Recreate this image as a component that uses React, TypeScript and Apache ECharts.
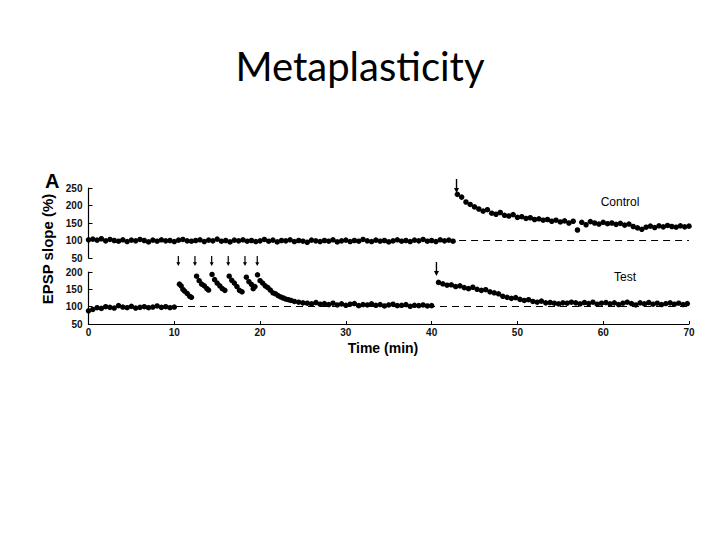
import React, { useEffect, useRef } from "react";
import * as echarts from "echarts";

// ---- data (minutes, EPSP slope %) ----
const xTicks = [0, 10, 20, 30, 40, 50, 60, 70];
const topTicks = [50, 100, 150, 200, 250];
const bottomTicks = [50, 100, 150, 200];

const STEP = 0.5;
// Control pathway, baseline (starts at 0 min, every 0.5 min)
const controlBaseStart = 0;
const controlBase = [
  102, 104, 101, 105, 99, 103, 100, 98, 102, 97, 101, 99, 103, 100, 96, 101, 98, 102, 99, 100,
  97, 101, 103, 99, 98, 100, 102, 97, 101, 99, 104, 98, 100, 96, 101, 99, 102, 98, 100, 97,
  99, 103, 98, 101, 96, 100, 99, 102, 97, 100, 98, 95, 101, 99, 97, 100, 98, 102, 96, 99,
  101, 97, 100, 98, 103, 99, 97, 101, 98, 100, 96, 99, 102, 98, 100, 97, 101, 99, 103, 98,
  100, 97, 102, 99, 101, 98,
];
// Control pathway after LTP induction (starts at 43 min)
const controlPostStart = 43;
const controlPost = [
  232, 224, 210, 203, 196, 190, 184, 188, 178, 175, 180, 172, 170, 174, 166, 168, 163, 165, 160, 162,
  158, 160, 155, 158, 153, 156, 150, 155, 130, 152, 145, 154, 150, 147, 152, 148, 150, 146, 149, 144,
  147, 140, 136, 132, 138, 141, 137, 142, 139, 143, 140, 138, 142, 139, 141,
];
// Test pathway baseline (0–10 min)
const testBaseStart = 0;
const testBase = [88, 92, 97, 95, 100, 98, 96, 103, 99, 97, 101, 96, 98, 100, 97, 99, 102, 98, 100, 97, 99];
// Test pathway during the priming trains (time, value)
const testTrains: [number, number][] = [
  [10.6, 165], [10.8, 160], [11.0, 150], [11.2, 145], [11.5, 138], [11.8, 130], [12.0, 127],
  [12.6, 188], [12.9, 175], [13.2, 165], [13.5, 160], [13.8, 152], [14.0, 148],
  [14.4, 193], [14.7, 178], [15.0, 168], [15.3, 160], [15.6, 152], [15.9, 147],
  [16.4, 188], [16.7, 176], [17.0, 168], [17.3, 158], [17.6, 147], [17.9, 143],
  [18.4, 185], [18.7, 172], [19.0, 164], [19.2, 152], [19.4, 158],
  [19.7, 192], [20.0, 175], [20.3, 168], [20.6, 160], [20.9, 155], [21.2, 148], [21.5, 140],
  [21.8, 137], [22.1, 132], [22.4, 128], [22.7, 125], [23.0, 122], [23.3, 120], [23.6, 118],
  [24.0, 115], [24.5, 113], [25.0, 111],
];
// Test pathway after priming (25.5–40 min)
const testMidStart = 25.5;
const testMid = [
  110, 108, 112, 107, 109, 106, 110, 105, 108, 104, 107, 109, 103, 106, 105, 108, 104, 106, 102, 105,
  107, 103, 104, 106, 101, 104, 103, 105, 102, 103,
];
// Test pathway after LTP induction (starts 40.8 min)
const testPostStart = 40.8;
const testPost = [
  170, 166, 162, 163, 158, 160, 155, 152, 156, 150, 147, 149, 143, 140, 137, 130, 127, 124, 126, 121,
  118, 120, 115, 113, 116, 111, 112, 110, 108, 111, 110, 113, 111, 108, 112, 109, 113, 107, 110, 112,
  108, 111, 106, 110, 113, 109, 105, 111, 108, 112, 107, 110, 106, 109, 111, 107, 110, 106, 109,
];
// Stimulus arrows
const testTrainArrows: [number, number][] = [
  [10.47, 232], [12.41, 232], [14.36, 232], [16.29, 232], [18.24, 232], [19.67, 232],
];
const testLtpArrow: [number, number][] = [[40.56, 209]];
const controlLtpArrow: [number, number][] = [[42.9, 256]];

const toPairs = (start: number, vals: number[]) => vals.map((v, i) => [start + i * STEP, v]);

const FONT = "Liberation Sans";
const smallArrow = "path://M1.4,0 L2.6,0 L2.6,7 L4,7 L2,11 L0,7 L1.4,7 Z";
const bigArrow = "path://M1.8,0 L3.2,0 L3.2,9 L5,9 L2.5,14 L0,9 L1.8,9 Z";

function buildOption(): any {
  const axisLabel = { fontFamily: FONT, fontWeight: "bold", fontSize: 10, color: "#111" };
  const dotSeries = (name: string, data: any[], grid: number) => ({
    name,
    type: "scatter",
    xAxisIndex: grid,
    yAxisIndex: grid,
    data,
    symbol: "circle",
    symbolSize: 5.5,
    itemStyle: { color: "#000", opacity: 1 },
    silent: true,
  });
  const arrowSeries = (name: string, data: any[], grid: number, sym: string, size: number[]) => ({
    name,
    type: "scatter",
    xAxisIndex: grid,
    yAxisIndex: grid,
    data,
    symbol: sym,
    symbolSize: size,
    clip: false,
    itemStyle: { color: "#000", opacity: 1 },
    silent: true,
  });
  const dashed = (from: number, to: number) => ({
    silent: true,
    symbol: "none",
    label: { show: false },
    lineStyle: { color: "#000", type: [7, 5], width: 1.2 },
    data: [[{ coord: [from, 100] }, { coord: [to, 100] }]],
  });

  return {
    animation: false,
    backgroundColor: "#fff",
    grid: [
      { left: 88.5, top: 188, width: 600.5, height: 70 },
      { left: 88.5, top: 272, width: 600.5, height: 52 },
    ],
    xAxis: [
      { gridIndex: 0, type: "value", min: 0, max: 70, interval: 10, show: false },
      {
        gridIndex: 1, type: "value", min: 0, max: 70, interval: 10,
        axisLine: { lineStyle: { color: "#000", width: 1.2 } },
        axisTick: { inside: true, length: 3, lineStyle: { color: "#000" } },
        axisLabel: { ...axisLabel, margin: 3, formatter: (v: number) => (xTicks.includes(v) ? String(v) : "") },
        splitLine: { show: false },
      },
    ],
    yAxis: [
      {
        gridIndex: 0, type: "value", min: 50, max: 250, interval: 50,
        axisLine: { show: true, lineStyle: { color: "#000", width: 1.2 } },
        axisTick: { show: true, inside: true, length: 4, lineStyle: { color: "#000" } },
        axisLabel: { ...axisLabel, margin: 6, formatter: (v: number) => (topTicks.includes(v) ? String(v) : "") },
        splitLine: { show: false },
      },
      {
        gridIndex: 1, type: "value", min: 50, max: 200, interval: 50,
        axisLine: { show: true, lineStyle: { color: "#000", width: 1.2 } },
        axisTick: { show: true, inside: true, length: 4, lineStyle: { color: "#000" } },
        axisLabel: { ...axisLabel, margin: 6, formatter: (v: number) => (bottomTicks.includes(v) ? String(v) : "") },
        splitLine: { show: false },
      },
    ],
    series: [
      { ...dotSeries("Control baseline", toPairs(controlBaseStart, controlBase), 0), markLine: dashed(43.2, 70) },
      dotSeries("Control post", toPairs(controlPostStart, controlPost), 0),
      { ...dotSeries("Test baseline", toPairs(testBaseStart, testBase), 1), markLine: dashed(10.2, 70) },
      dotSeries("Test trains", testTrains, 1),
      dotSeries("Test mid", toPairs(testMidStart, testMid), 1),
      dotSeries("Test post", toPairs(testPostStart, testPost), 1),
      arrowSeries("Train arrows", testTrainArrows, 1, smallArrow, [4, 10]),
      arrowSeries("Test LTP arrow", testLtpArrow, 1, bigArrow, [5, 14]),
      arrowSeries("Control LTP arrow", controlLtpArrow, 0, bigArrow, [5, 14]),
    ],
    graphic: [
      {
        type: "text", left: "center", top: 46,
        style: { text: "Metaplasticity", font: "40px Lato", fill: "#000" },
      },
      {
        type: "text", x: 45, y: 171,
        style: { text: "A", font: "bold 20px 'Liberation Sans'", fill: "#000" },
      },
      {
        type: "text", x: 47, y: 249, rotation: Math.PI / 2,
        style: {
          text: "EPSP slope (%)", font: "bold 15px 'Liberation Sans'", fill: "#000",
          textAlign: "center", textVerticalAlign: "middle",
        },
      },
      {
        type: "text", x: 383, y: 348,
        style: {
          text: "Time (min)", font: "bold 14px 'Liberation Sans'", fill: "#000",
          textAlign: "center", textVerticalAlign: "middle",
        },
      },
      {
        type: "text", x: 620, y: 202,
        style: { text: "Control", font: "12px 'Liberation Sans'", fill: "#000", textAlign: "center", textVerticalAlign: "middle" },
      },
      {
        type: "text", x: 625, y: 277,
        style: { text: "Test", font: "12px 'Liberation Sans'", fill: "#000", textAlign: "center", textVerticalAlign: "middle" },
      },
    ],
  };
}

export default function App() {
  const ref = useRef<HTMLDivElement>(null);
  useEffect(() => {
    if (!ref.current) return;
    const chart = echarts.init(ref.current, null, { renderer: "svg" });
    chart.setOption(buildOption());
    return () => chart.dispose();
  }, []);
  return (
    <div
      ref={ref}
      style={{ position: "absolute", left: 0, top: 0, width: 720, height: 540, background: "#fff" }}
    />
  );
}
